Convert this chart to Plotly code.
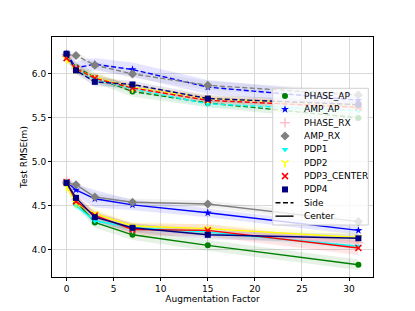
import plotly.graph_objects as go

x_vals = [0, 1, 3, 7, 15, 31]

methods = ["PHASE_AP", "AMP_AP", "PHASE_RX", "AMP_RX", "PDP1", "PDP2", "PDP3_CENTER", "PDP4"]

# Side (dashed) mean RMSE
side_phase_ap = [6.20, 6.08, 5.96, 5.80, 5.67, 5.50]
side_amp_ap = [6.23, 6.07, 6.11, 6.05, 5.85, 5.70]
side_phase_rx = [6.20, 6.06, 5.95, 5.84, 5.71, 5.62]
side_amp_rx = [6.22, 6.21, 6.10, 6.00, 5.87, 5.76]
side_pdp1 = [6.19, 6.05, 5.94, 5.83, 5.66, 5.58]
side_pdp2 = [6.17, 6.05, 5.96, 5.85, 5.72, 5.64]
side_pdp3 = [6.18, 6.06, 5.95, 5.84, 5.70, 5.62]
side_pdp4 = [6.23, 6.04, 5.91, 5.88, 5.72, 5.65]

# Center (solid) mean RMSE
center_phase_ap = [4.75, 4.55, 4.31, 4.17, 4.05, 3.83]
center_amp_ap = [4.77, 4.68, 4.58, 4.51, 4.42, 4.22]
center_phase_rx = [4.78, 4.57, 4.38, 4.24, 4.21, 4.08]
center_amp_rx = [4.76, 4.74, 4.60, 4.54, 4.52, 4.32]
center_pdp1 = [4.78, 4.50, 4.33, 4.25, 4.20, 4.04]
center_pdp2 = [4.72, 4.53, 4.41, 4.27, 4.24, 4.14]
center_pdp3 = [4.77, 4.55, 4.39, 4.23, 4.22, 4.02]
center_pdp4 = [4.76, 4.59, 4.37, 4.25, 4.17, 4.13]

# Spread (half-width of shaded band)
side_spread = {
    "PHASE_AP": [0.04, 0.05, 0.06, 0.06, 0.05, 0.05],
    "AMP_AP": [0.05, 0.07, 0.07, 0.08, 0.08, 0.07],
    "PHASE_RX": [0.05, 0.07, 0.05, 0.04, 0.04, 0.04],
    "AMP_RX": [0.04, 0.04, 0.04, 0.05, 0.05, 0.05],
    "PDP1": [0.03, 0.04, 0.04, 0.04, 0.04, 0.04],
    "PDP2": [0.03, 0.04, 0.04, 0.04, 0.04, 0.04],
    "PDP3_CENTER": [0.04, 0.05, 0.04, 0.04, 0.04, 0.04],
    "PDP4": [0.04, 0.04, 0.05, 0.04, 0.04, 0.04],
}
center_spread = {
    "PHASE_AP": [0.04, 0.05, 0.06, 0.06, 0.06, 0.06],
    "AMP_AP": [0.05, 0.07, 0.10, 0.06, 0.05, 0.05],
    "PHASE_RX": [0.05, 0.06, 0.07, 0.05, 0.05, 0.05],
    "AMP_RX": [0.03, 0.03, 0.04, 0.04, 0.04, 0.04],
    "PDP1": [0.03, 0.04, 0.04, 0.04, 0.04, 0.04],
    "PDP2": [0.04, 0.05, 0.06, 0.05, 0.05, 0.05],
    "PDP3_CENTER": [0.04, 0.05, 0.05, 0.07, 0.07, 0.08],
    "PDP4": [0.04, 0.04, 0.05, 0.05, 0.05, 0.05],
}

side_means = [side_phase_ap, side_amp_ap, side_phase_rx, side_amp_rx,
              side_pdp1, side_pdp2, side_pdp3, side_pdp4]
center_means = [center_phase_ap, center_amp_ap, center_phase_rx, center_amp_rx,
                center_pdp1, center_pdp2, center_pdp3, center_pdp4]

style_labels = ["Side", "Center"]

colors = ["#008000", "#0000ff", "#ffc0cb", "#808080", "#00ffff", "#ffff00", "#ff0000", "#000080"]
symbols = ["circle", "star", "cross-thin", "diamond", "triangle-down", "y-down", "x-thin", "square"]
sizes = [6, 6, 7, 7, 6, 6, 6, 6]
DASH = "5px,2.5px"

def rgba(hexc, a):
    h = hexc.lstrip("#")
    r, g, b = int(h[0:2], 16), int(h[2:4], 16), int(h[4:6], 16)
    return f"rgba({r},{g},{b},{a})"

def marker_for(i):
    thin = symbols[i] in ("cross-thin", "x-thin", "y-down")
    return dict(symbol=symbols[i], size=sizes[i], color=colors[i],
                line=dict(width=1.5 if thin else 0, color=colors[i]))

fig = go.Figure()

# bands
for group_means, spreads in ((side_means, side_spread), (center_means, center_spread)):
    for i, m in enumerate(methods):
        mean = group_means[i]
        sp = spreads[m]
        upper = [a + b for a, b in zip(mean, sp)]
        lower = [a - b for a, b in zip(mean, sp)]
        fig.add_trace(go.Scatter(x=x_vals, y=upper, mode="lines", line=dict(width=0),
                                 showlegend=False, hoverinfo="skip"))
        fig.add_trace(go.Scatter(x=x_vals, y=lower, mode="lines", line=dict(width=0),
                                 fill="tonexty", fillcolor=rgba(colors[i], 0.1),
                                 showlegend=False, hoverinfo="skip"))

# lines
for i, m in enumerate(methods):
    fig.add_trace(go.Scatter(x=x_vals, y=side_means[i], mode="lines+markers",
                             line=dict(color=colors[i], width=1.4, dash=DASH),
                             marker=marker_for(i), showlegend=False, name=m))
    fig.add_trace(go.Scatter(x=x_vals, y=center_means[i], mode="lines+markers",
                             line=dict(color=colors[i], width=1.4),
                             marker=marker_for(i), showlegend=False, name=m))

# ---- legend drawn in an overlay pixel frame (plot area 52..373 x 37..277) ----
LX0, LX1, LY0, LY1 = 272.7, 368.3, 88.3, 225.0
row_y0, row_dy = 96.0, 13.35
sym_x, text_x = 285.0, 301.5

fig.add_trace(go.Scatter(x=[LX0, LX1, LX1, LX0, LX0], y=[LY0, LY0, LY1, LY1, LY0],
                         mode="lines", fill="toself", fillcolor="rgba(255,255,255,0.8)",
                         line=dict(color="#d0d0d0", width=1), xaxis="x2", yaxis="y2",
                         showlegend=False, hoverinfo="skip"))
annotations = []
for i, m in enumerate(methods):
    yy = row_y0 + i * row_dy
    fig.add_trace(go.Scatter(x=[sym_x], y=[yy], mode="markers", marker=marker_for(i),
                             xaxis="x2", yaxis="y2", showlegend=False, hoverinfo="skip"))
    annotations.append(dict(x=text_x, y=yy, xref="x2", yref="y2", text=m, showarrow=False,
                            xanchor="left", yanchor="middle", font=dict(size=9, color="black")))
for j, lab in enumerate(style_labels):
    yy = row_y0 + (len(methods) + j) * row_dy
    fig.add_trace(go.Scatter(x=[275.5, 293.5], y=[yy, yy], mode="lines",
                             line=dict(color="black", width=1.4, dash=DASH if lab == "Side" else "solid"),
                             xaxis="x2", yaxis="y2", showlegend=False, hoverinfo="skip"))
    annotations.append(dict(x=text_x, y=yy, xref="x2", yref="y2", text=lab, showarrow=False,
                            xanchor="left", yanchor="middle", font=dict(size=9, color="black")))

axis_common = dict(showline=True, linecolor="black", linewidth=1, mirror=True,
                   showgrid=True, gridcolor="#d9d9d9", gridwidth=1,
                   ticks="outside", ticklen=3, tickcolor="black", zeroline=False,
                   tickfont=dict(size=9, color="black"))

# page body has an 8px default margin, so the figure is offset by 8px
fig.update_layout(
    width=415, height=311,
    margin=dict(l=44, r=50, t=29, b=42),
    paper_bgcolor="white", plot_bgcolor="white",
    font=dict(family="DejaVu Sans", size=9, color="black"),
    xaxis=dict(range=[-1.55, 32.55], tickvals=[0, 5, 10, 15, 20, 25, 30],
               title=dict(text="Augmentation Factor", font=dict(size=9), standoff=1),
               **axis_common),
    yaxis=dict(range=[3.69, 6.42], tickvals=[4.0, 4.5, 5.0, 5.5, 6.0], tickformat=".1f",
               title=dict(text="Test RMSE(m)", font=dict(size=9), standoff=2),
               **axis_common),
    xaxis2=dict(overlaying="x", range=[52, 373], visible=False, fixedrange=True),
    yaxis2=dict(overlaying="y", range=[277, 37], visible=False, fixedrange=True),
    annotations=annotations,
    showlegend=False,
)

fig.write_html("out.html")
